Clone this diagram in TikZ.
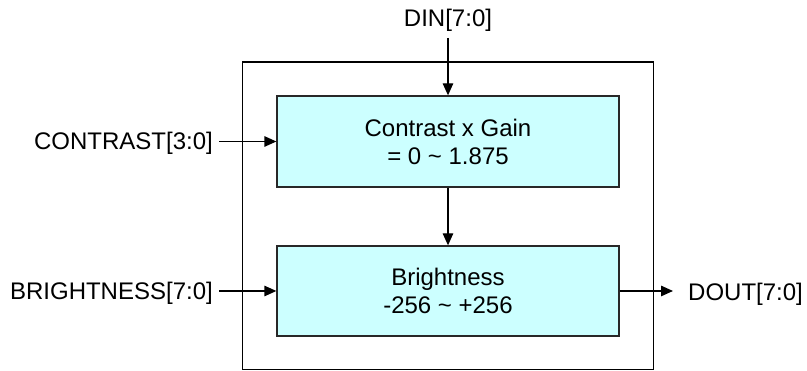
\documentclass[tikz,border=0pt]{standalone}
\usepackage{fontspec}
\setmainfont{Liberation Sans}
\usetikzlibrary{arrows.meta}
\definecolor{cyanfill}{RGB}{204,255,255}
\definecolor{edge}{RGB}{40,40,40}
\begin{document}
\begin{tikzpicture}[x=1pt,y=-1pt,
  txt/.style={font=\fontsize{24}{28}\selectfont},
  wire/.style={line width=1.3pt, draw=black, -{Triangle[length=12pt,width=10.5pt]}},
  block/.style={txt, draw=edge, line width=1.3pt, fill=cyanfill,
    minimum width=342pt, minimum height=91pt, align=center, inner sep=0pt},
  frame/.style={draw=black, line width=1.3pt, minimum width=411pt,
    minimum height=307.5pt, inner sep=0pt},
  sig/.style={txt, inner ysep=6pt}]
\useasboundingbox (0,0) rectangle (807,371);

% enclosing module
\node[frame] (module) at (448,215.75) {};

% processing stages
\node[block] (gain) at (448,141.5) {Contrast x Gain\\= 0 \textasciitilde{} 1.875};
\node[block, minimum height=90pt] (bright) at (448,291) {Brightness\\-256 \textasciitilde{} +256};

% ports
\node[sig, anchor=base, inner xsep=0pt] (din) at (448,26.7) {DIN[7:0]};
\node[sig, anchor=base east, inner xsep=6pt] (contrast) at (219,150) {CONTRAST[3:0]};
\node[sig, anchor=base east, inner xsep=6pt] (brightness) at (219,300) {BRIGHTNESS[7:0]};
\node[sig, anchor=base west, inner xsep=15pt] (dout) at (673,301) {DOUT[7:0]};

% signal flow
\draw[wire] (din.south) -- (gain.north);
\draw[wire] (contrast.east |- gain.west) -- (gain.west);
\draw[wire] (gain.south) -- (bright.north);
\draw[wire] (brightness.east |- bright.west) -- (bright.west);
\draw[wire] (bright.east) -- (bright.east -| dout.west);
\end{tikzpicture}
\end{document}
